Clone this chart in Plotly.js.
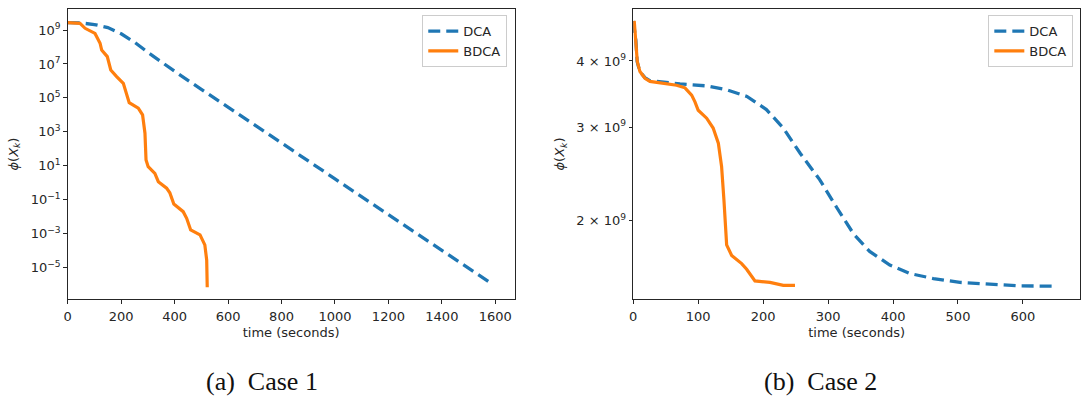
<!DOCTYPE html>
<html>
<head>
<meta charset="utf-8">
<script src="https://cdn.plot.ly/plotly-3.0.1.min.js"></script>
<style>
  html, body { margin: 0; padding: 0; background: #ffffff; }
  #chart { width: 1089px; height: 401px; }
</style>
</head>
<body>
<div id="chart"></div>
<script>
// Case 1: objective value vs. wall time (log scale)
const case1DcaTime = [0, 50, 100, 150, 200, 250, 300, 350, 400, 500, 600, 700, 800, 900, 1000, 1100, 1200, 1300, 1400, 1500, 1585];
const case1DcaPhi  = [2.7e9, 2.6e9, 2.1e9, 1.4e9, 6.0e8, 1.9e8, 4.8e7, 1.3e7, 3.7e6, 3.2e5, 2.9e4, 2.5e3, 2.2e2, 19.5, 1.7, 0.15, 0.0135, 1.2e-3, 1.07e-4, 9.3e-6, 1.2e-6];

const case1BdcaTime = [0, 46, 65, 102, 121, 127, 148, 161, 183, 208, 230, 264, 280, 289, 293, 301, 326, 339, 370, 382, 397, 432, 445, 460, 495, 513, 520, 522];
const case1BdcaPhi  = [2.7e9, 2.45e9, 1.26e9, 6.3e8, 1.66e8, 6.6e7, 2.7e7, 4.4e6, 1.8e6, 7.2e5, 5.2e4, 2.5e4, 1.0e4, 830, 22, 8.9, 3.6, 1.17, 0.48, 0.26, 0.056, 0.02, 8.1e-3, 1.66e-3, 8.5e-4, 2.2e-4, 2.8e-5, 7.1e-7];

// Case 2
const case2DcaTime = [0, 4, 6, 10, 18, 26, 72, 113, 144, 175, 205, 231, 257, 287, 313, 339, 364, 395, 426, 462, 503, 544, 595, 652];
const case2DcaPhi  = [4.76e9, 4.38e9, 3.99e9, 3.82e9, 3.72e9, 3.67e9, 3.62e9, 3.59e9, 3.53e9, 3.43e9, 3.24e9, 2.99e9, 2.68e9, 2.39e9, 2.12e9, 1.89e9, 1.75e9, 1.65e9, 1.59e9, 1.556e9, 1.53e9, 1.52e9, 1.507e9, 1.505e9];

const case2BdcaTime = [1.5, 4.2, 6.2, 10.3, 18, 25.7, 51.4, 66.8, 79.6, 89.9, 95, 100, 113, 123, 131, 136, 139.6, 143.8, 151.5, 166.9, 174.6, 187.4, 210.5, 231, 249];
const case2BdcaPhi  = [4.76e9, 4.38e9, 3.99e9, 3.82e9, 3.71e9, 3.66e9, 3.63e9, 3.60e9, 3.56e9, 3.45e9, 3.35e9, 3.23e9, 3.12e9, 2.99e9, 2.80e9, 2.53e9, 2.19e9, 1.80e9, 1.72e9, 1.66e9, 1.62e9, 1.54e9, 1.53e9, 1.51e9, 1.51e9];

// Tick labels
const case1TickVals = [1e9, 1e7, 1e5, 1e3, 1e1, 1e-1, 1e-3, 1e-5];
const case1TickText = ['10<sup>9</sup>', '10<sup>7</sup>', '10<sup>5</sup>', '10<sup>3</sup>', '10<sup>1</sup>',
                       '10<sup>\u22121</sup>', '10<sup>\u22123</sup>', '10<sup>\u22125</sup>'];
const case2TickVals = [2e9, 3e9, 4e9];
const case2TickText = ['2 \u00d7 10<sup>9</sup>', '3 \u00d7 10<sup>9</sup>', '4 \u00d7 10<sup>9</sup>'];

const seriesNames = ['DCA', 'BDCA'];
const captions = ['(a)\u00a0\u00a0Case 1', '(b)\u00a0\u00a0Case 2'];

const BLUE = '#1f77b4';
const ORANGE = '#ff7f0e';
const INK = '#262626';
const dcaLine = { color: BLUE, width: 3.3, dash: '12px,6px' };
const bdcaLine = { color: ORANGE, width: 3.2 };

const traces = [
  { x: case1DcaTime, y: case1DcaPhi, name: seriesNames[0], mode: 'lines', line: dcaLine, xaxis: 'x', yaxis: 'y', legend: 'legend' },
  { x: case1BdcaTime, y: case1BdcaPhi, name: seriesNames[1], mode: 'lines', line: bdcaLine, xaxis: 'x', yaxis: 'y', legend: 'legend' },
  { x: case2DcaTime, y: case2DcaPhi, name: seriesNames[0], mode: 'lines', line: dcaLine, xaxis: 'x2', yaxis: 'y2', legend: 'legend2' },
  { x: case2BdcaTime, y: case2BdcaPhi, name: seriesNames[1], mode: 'lines', line: bdcaLine, xaxis: 'x2', yaxis: 'y2', legend: 'legend2' }
];

const tickFont = { family: 'DejaVu Sans, sans-serif', size: 13, color: INK };
const frame = {
  showline: true, mirror: true, linecolor: INK, linewidth: 1,
  ticks: 'outside', ticklen: 3.5, tickwidth: 1, tickcolor: INK,
  showgrid: false, zeroline: false, tickfont: tickFont, automargin: false
};
const xTitle = { text: 'time (seconds)', font: tickFont, standoff: 4 };
const yTitle = { text: '<i>\u03d5</i>(<i>X</i><sub><i>k</i></sub>)', font: tickFont };

const legendBase = {
  font: tickFont, bgcolor: 'rgba(255,255,255,0.85)', bordercolor: '#cccccc', borderwidth: 1,
  xanchor: 'right', yanchor: 'top', y: 0.979, tracegroupgap: 0
};

const layout = {
  width: 1089, height: 401,
  margin: { l: 0, r: 0, t: 9, b: 102 },
  paper_bgcolor: '#ffffff', plot_bgcolor: '#ffffff',
  showlegend: true,
  xaxis: Object.assign({}, frame, { domain: [0.0622, 0.4725], range: [0, 1672], ticklabelstandoff: 2,
    tickvals: [0, 200, 400, 600, 800, 1000, 1200, 1400, 1600], title: xTitle, anchor: 'y' }),
  yaxis: Object.assign({}, frame, { type: 'log', range: [-6.845, 10.237],
    tickvals: case1TickVals, ticktext: case1TickText, title: Object.assign({ standoff: 9 }, yTitle), anchor: 'x' }),
  xaxis2: Object.assign({}, frame, { domain: [0.5815, 0.9917], range: [0, 687.8], ticklabelstandoff: 2,
    tickvals: [0, 100, 200, 300, 400, 500, 600], title: xTitle, anchor: 'y2' }),
  yaxis2: Object.assign({}, frame, { type: 'log', range: [9.1534, 9.700],
    tickvals: case2TickVals, ticktext: case2TickText, title: Object.assign({ standoff: 8 }, yTitle), anchor: 'x2' }),
  legend: Object.assign({}, legendBase, { x: 0.4658 }),
  legend2: Object.assign({}, legendBase, { x: 0.9856 }),
  annotations: [
    { text: captions[0], xref: 'paper', yref: 'paper', x: 0.2406, y: -0.283, xanchor: 'center', yanchor: 'middle',
      showarrow: false, font: { family: 'Liberation Serif, serif', size: 26, color: '#111111' } },
    { text: captions[1], xref: 'paper', yref: 'paper', x: 0.7539, y: -0.283, xanchor: 'center', yanchor: 'middle',
      showarrow: false, font: { family: 'Liberation Serif, serif', size: 26, color: '#111111' } }
  ]
};

Plotly.newPlot('chart', traces, layout, { displayModeBar: false, staticPlot: true });
</script>
</body>
</html>
